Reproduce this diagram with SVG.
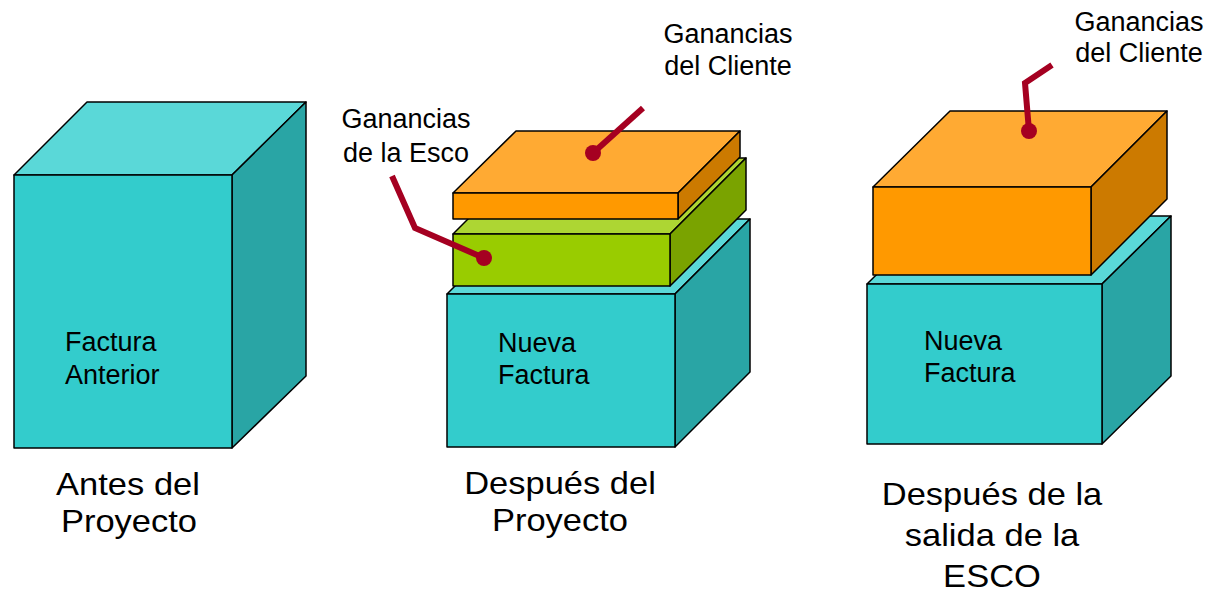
<svg xmlns="http://www.w3.org/2000/svg" width="1220" height="595" viewBox="0 0 1220 595">
<style>
.k{stroke:#000;stroke-width:1.5;stroke-linejoin:round}
.tf{fill:#33CCCC}.tt{fill:#5AD8D8}.tr{fill:#29A5A5}
.of{fill:#FF9900}.ot{fill:#FFAA33}.or{fill:#CC7A00}
.gf{fill:#99CC00}.gt{fill:#ADD633}.gr{fill:#7AA300}
.lbl{font-family:"Liberation Sans",Arial,sans-serif;font-size:27px;fill:#000}
.big{font-family:"Liberation Sans",Arial,sans-serif;font-size:34.5px;fill:#000}
.call{fill:none;stroke:#A50021;stroke-width:6;stroke-linejoin:miter}
.dot{fill:#A50021}
</style>
<rect width="1220" height="595" fill="#fff"/>

<g id="box-antes">
<polygon class="k tt" points="14,175 87,102 306,102 232,175"/>
<polygon class="k tr" points="232,175 306,102 306,376 232,448"/>
<rect class="k tf" x="14" y="175" width="218" height="273"/>
<text class="lbl" x="65" y="351">Factura</text>
<text class="lbl" x="65" y="384">Anterior</text>
</g>

<g id="box-despues-base">
<polygon class="k tt" points="447,294 522,219 750,219 675,294"/>
<polygon class="k tr" points="675,294 750,219 750,372 675,447"/>
<rect class="k tf" x="447" y="294" width="228" height="153"/>
<text class="lbl" x="498" y="352">Nueva</text>
<text class="lbl" x="498" y="384">Factura</text>
</g>

<g id="slab-esco">
<polygon class="k gt" points="453,234 529,158 746,158 670,234"/>
<polygon class="k gr" points="670,234 746,158 746,210 670,286"/>
<rect class="k gf" x="453" y="234" width="217" height="52"/>
</g>

<g id="slab-cliente">
<polygon class="k ot" points="453,193 516,131 740,131 678,193"/>
<polygon class="k or" points="678,193 740,131 740,157 678,219"/>
<rect class="k of" x="453" y="193" width="225" height="26"/>
</g>

<g id="box-salida-base">
<polygon class="k tt" points="867,284 936,216 1171,216 1102,284"/>
<polygon class="k tr" points="1102,284 1171,216 1171,376 1102,444"/>
<rect class="k tf" x="867" y="284" width="235" height="160"/>
<text class="lbl" x="924" y="350">Nueva</text>
<text class="lbl" x="924" y="382">Factura</text>
</g>

<g id="block-cliente">
<polygon class="k ot" points="873,187 950,111 1167,111 1091,187"/>
<polygon class="k or" points="1091,187 1167,111 1167,199 1091,275"/>
<rect class="k of" x="873" y="187" width="218" height="88"/>
</g>

<g id="connectors">
<polyline class="call" points="484,258 415,228 392,176"/>
<circle class="dot" cx="484" cy="258" r="8"/>
<polyline class="call" points="593,153 643,108"/>
<circle class="dot" cx="593" cy="153" r="8"/>
<polyline class="call" points="1029,131 1025,83 1052,65"/>
<circle class="dot" cx="1029" cy="131" r="8"/>
</g>

<g id="label-esco" text-anchor="middle">
<text class="lbl" x="406" y="128">Ganancias</text>
<text class="lbl" x="406" y="162">de la Esco</text>
</g>
<g id="label-cliente-1" text-anchor="middle">
<text class="lbl" x="728" y="43">Ganancias</text>
<text class="lbl" x="728" y="75">del Cliente</text>
</g>
<g id="label-cliente-2" text-anchor="middle">
<text class="lbl" x="1139" y="31">Ganancias</text>
<text class="lbl" x="1139" y="62">del Cliente</text>
</g>

<g id="caption-antes" text-anchor="middle">
<text class="big" transform="translate(128,495) scale(1,0.9)">Antes del</text>
<text class="big" transform="translate(129,532) scale(1,0.9)">Proyecto</text>
</g>
<g id="caption-despues" text-anchor="middle">
<text class="big" transform="translate(560,494) scale(1,0.9)">Después del</text>
<text class="big" transform="translate(560,531) scale(1,0.9)">Proyecto</text>
</g>
<g id="caption-salida" text-anchor="middle">
<text class="big" transform="translate(992,505) scale(1,0.9)">Después de la</text>
<text class="big" transform="translate(992,546) scale(1,0.9)">salida de la</text>
<text class="big" transform="translate(992,587) scale(1,0.9)">ESCO</text>
</g>
</svg>
